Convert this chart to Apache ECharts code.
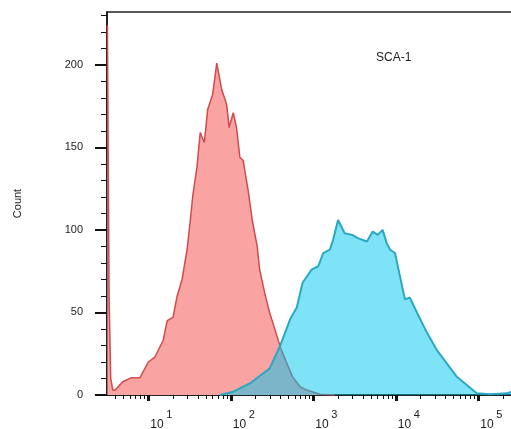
<!DOCTYPE html>
<html>
<head>
<meta charset="utf-8">
<script src="https://cdn.jsdelivr.net/npm/echarts@6/dist/echarts.min.js"></script>
<style>
  html, body { margin: 0; padding: 0; background: #fff; }
  #chart { width: 511px; height: 429px; }
</style>
</head>
<body>
<div id="chart"></div>
<script>
// histogram x positions are log10 of the fluorescence intensity
const controlLogX = [0.505, 0.525, 0.545, 0.57, 0.6, 0.69, 0.8, 0.9, 1.0, 1.08, 1.18, 1.23, 1.3, 1.35, 1.41, 1.47,
  1.51, 1.54, 1.59, 1.63, 1.68, 1.72, 1.78, 1.83, 1.89, 1.95, 1.98, 2.03, 2.07, 2.11, 2.15, 2.21,
  2.26, 2.32, 2.35, 2.41, 2.47, 2.54, 2.6, 2.68, 2.75, 2.84, 2.92, 3.08, 3.26];
const controlCount = [224, 60, 10, 3, 3, 8, 10.5, 10.5, 20, 23, 33, 45, 47, 60, 70, 88,
  106, 121, 138, 159, 153, 173, 182, 201, 185, 176, 162, 171, 162, 144, 142, 124,
  106, 90, 76, 62, 50, 39, 29, 19, 11, 5, 3, 0.5, 0];

const sca1LogX = [1.87, 2.03, 2.23, 2.39, 2.47, 2.6, 2.72, 2.8, 2.87, 2.98, 3.06, 3.12, 3.2, 3.24, 3.3,
  3.38, 3.47, 3.54, 3.65, 3.72, 3.78, 3.84, 3.89, 3.93, 3.99, 4.05, 4.11, 4.17, 4.26, 4.38,
  4.5, 4.62, 4.74, 4.86, 4.98, 5.14, 5.35, 5.42];
const sca1Count = [0, 2, 7, 13, 16, 30, 46, 53, 68, 76, 78, 86, 88, 94, 106,
  98, 97, 95, 93, 99, 97, 100, 92, 88, 86, 72, 58, 59, 49.5, 37.5,
  27, 19, 11, 6, 1, 0.5, 1, 2.5];

const decadeTicks = [1, 2, 3, 4, 5];
const minorMultipliers = [2, 3, 4, 5, 6, 7, 8, 9];
const countTicks = [0, 50, 100, 150, 200];
const countMinorTicks = [10, 20, 30, 40, 60, 70, 80, 90, 110, 120, 130, 140, 160, 170, 180, 190, 210, 220, 230];

const fontFamily = 'Arial, "Liberation Sans", sans-serif';
const textColor = '#222';

const minorLogTicks = [];
for (let n = 0; n <= 5; n++) {
  minorMultipliers.forEach((k) => {
    const v = n + Math.log10(k);
    if (v > 0.5 && v < 5.42) minorLogTicks.push(v);
  });
}

const zip = (xs, ys) => xs.map((x, i) => [x, ys[i]]);

const chart = echarts.init(document.getElementById('chart'));

const option = {
  animation: false,
  textStyle: { fontFamily: fontFamily },
  title: {
    text: 'SCA-1',
    left: 371,
    top: 47,
    textStyle: { fontSize: 12, fontWeight: 'normal', color: textColor, fontFamily: fontFamily },
  },
  grid: {
    left: 107,
    right: -2,
    top: 12,
    bottom: 34,
    outerBoundsMode: 'none',
    show: true,
    borderColor: '#222',
    borderWidth: 1.5,
  },
  xAxis: [
    {
      // decade ticks and the "10" base of each label
      type: 'value',
      min: 0.5,
      max: 5.42,
      splitLine: { show: false },
      axisLine: { lineStyle: { color: '#111', width: 1.5 } },
      axisTick: { customValues: decadeTicks, length: 6, lineStyle: { color: '#111', width: 3 } },
      axisLabel: {
        customValues: decadeTicks,
        align: 'left',
        margin: 24,
        padding: [0, 0, 0, 2],
        fontSize: 12,
        color: textColor,
        fontFamily: fontFamily,
        formatter: () => '10',
      },
    },
    {
      // minor ticks and the raised exponent of each label
      type: 'value',
      min: 0.5,
      max: 5.42,
      position: 'bottom',
      splitLine: { show: false },
      axisLine: { show: false },
      axisTick: { customValues: minorLogTicks, length: 4, lineStyle: { color: '#111', width: 1 } },
      axisLabel: {
        customValues: decadeTicks,
        align: 'left',
        margin: 14,
        padding: [0, 0, 0, 18],
        fontSize: 11,
        color: textColor,
        fontFamily: fontFamily,
        formatter: (v) => String(Math.round(v)),
      },
    },
  ],
  yAxis: [
    {
      type: 'value',
      min: 0,
      max: 232,
      name: 'Count',
      nameLocation: 'middle',
      nameGap: 84,
      nameTextStyle: { fontSize: 11, color: textColor, fontFamily: fontFamily },
      splitLine: { show: false },
      axisLine: { show: true, lineStyle: { color: '#111', width: 1.5 } },
      axisTick: { show: true, customValues: countTicks, length: 12, lineStyle: { color: '#111', width: 2 } },
      axisLabel: { customValues: countTicks, margin: 24, fontSize: 11, color: textColor, fontFamily: fontFamily },
    },
    {
      type: 'value',
      min: 0,
      max: 232,
      position: 'left',
      splitLine: { show: false },
      axisLine: { show: false },
      axisLabel: { show: false },
      axisTick: { show: true, customValues: countMinorTicks, length: 6, lineStyle: { color: '#111', width: 1 } },
    },
  ],
  series: [
    {
      name: 'Isotype',
      type: 'line',
      data: zip(controlLogX, controlCount),
      showSymbol: false,
      lineStyle: { color: '#d24a4a', width: 1.5 },
      areaStyle: { color: '#f9a3a3', opacity: 1 },
      z: 2,
    },
    {
      name: 'SCA-1',
      type: 'line',
      data: zip(sca1LogX, sca1Count),
      showSymbol: false,
      lineStyle: { color: '#2aa8c2', width: 2 },
      areaStyle: { color: 'rgba(0, 200, 240, 0.5)', opacity: 1 },
      z: 3,
    },
  ],
};

chart.setOption(option);
</script>
</body>
</html>
